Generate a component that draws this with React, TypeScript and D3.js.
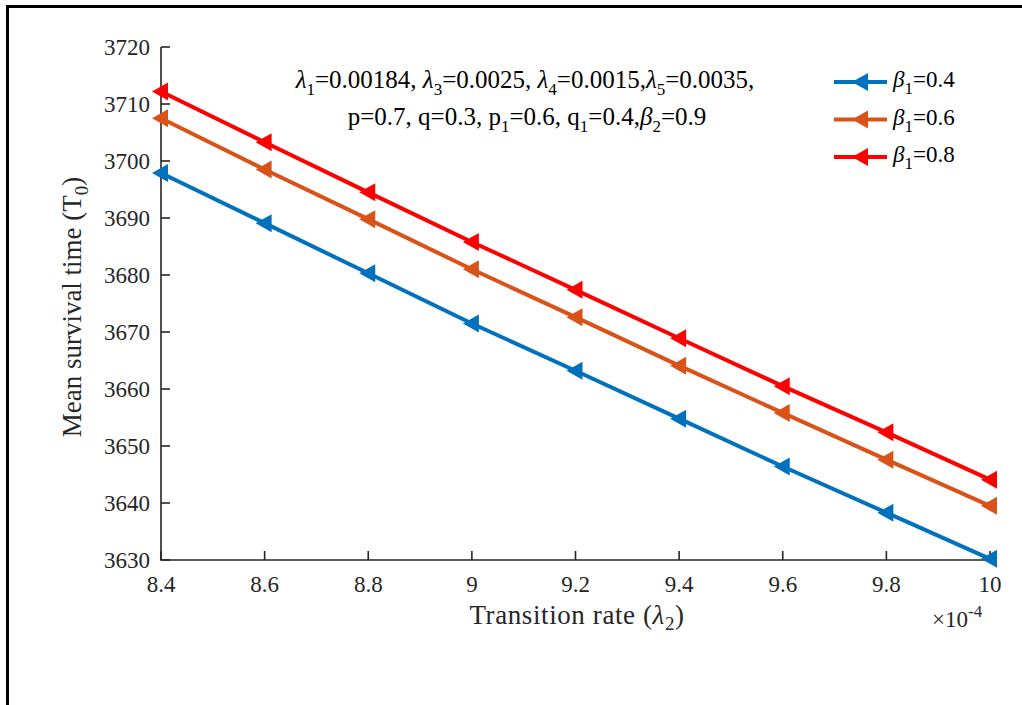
import React from 'react';
import * as d3 from 'd3';

const xValues = [8.4, 8.6, 8.8, 9.0, 9.2, 9.4, 9.6, 9.8, 10];
const beta04 = [3697.9, 3689.1, 3680.3, 3671.5, 3663.2, 3654.8, 3646.4, 3638.3, 3630.2];
const beta06 = [3707.5, 3698.5, 3689.8, 3681.0, 3672.6, 3664.1, 3655.8, 3647.6, 3639.5];
const beta08 = [3712.2, 3703.3, 3694.5, 3685.8, 3677.4, 3668.9, 3660.5, 3652.4, 3644.1];
const xTicks = [8.4, 8.6, 8.8, 9, 9.2, 9.4, 9.6, 9.8, 10];
const yTicks = [3630, 3640, 3650, 3660, 3670, 3680, 3690, 3700, 3710, 3720];

const series = [
  { label: '0.4', color: '#0072BD', values: beta04 },
  { label: '0.6', color: '#D95319', values: beta06 },
  { label: '0.8', color: '#FF0000', values: beta08 },
];

const FONT = '"Liberation Serif", "DejaVu Serif", serif';
const AXIS = '#262626';

export default function App() {
  const x = d3.scaleLinear().domain([8.4, 10]).range([161, 990]);
  const y = d3.scaleLinear().domain([3630, 3720]).range([560, 47]);
  const line = d3.line<number>().x((_, i) => x(xValues[i])).y(d => y(d));
  const tri = (cx: number, cy: number) => `M${cx - 9},${cy} L${cx + 7},${cy - 9} L${cx + 7},${cy + 9} Z`;

  return (
    <svg width={1022} height={705} style={{ position: 'absolute', left: 0, top: 0, background: '#fff' }}
      fontFamily={FONT}>
      {/* outer frame */}
      <path d="M7.5,705 L7.5,6.5 L1022,6.5" fill="none" stroke="#000" strokeWidth={3} />

      {/* axes */}
      <path d={`M${x(8.4)},${y(3720)} L${x(8.4)},${y(3630)} L${x(10)},${y(3630)}`} fill="none" stroke={AXIS} strokeWidth={1.6} />
      {yTicks.map(t => (
        <g key={t}>
          <line x1={x(8.4)} x2={x(8.4) + 9} y1={y(t)} y2={y(t)} stroke={AXIS} strokeWidth={1.6} />
          <text x={150} y={y(t)} dy="0.34em" textAnchor="end" fontSize={23} fill={AXIS}>{t}</text>
        </g>
      ))}
      {xTicks.map(t => (
        <g key={t}>
          <line x1={x(t)} x2={x(t)} y1={y(3630)} y2={y(3630) - 9} stroke={AXIS} strokeWidth={1.6} />
          <text x={x(t)} y={592} textAnchor="middle" fontSize={23} fill={AXIS}>{t}</text>
        </g>
      ))}
      <text x={932} y={627} fontSize={23} fill={AXIS}>×10<tspan dy={-10} fontSize={17}>-4</tspan></text>

      {/* axis labels */}
      <text x={577} y={624} textAnchor="middle" fontSize={27} letterSpacing={0.6} fill={AXIS}>
        Transition rate (<tspan fontStyle="italic">λ</tspan><tspan dy={6} fontSize={19}>2</tspan><tspan dy={-6}>)</tspan>
      </text>
      <text transform="translate(81,307) rotate(-90)" textAnchor="middle" fontSize={27} fill={AXIS}>
        Mean survival time (T<tspan dy={7} fontSize={19}>0</tspan><tspan dy={-7}>)</tspan>
      </text>

      {/* series */}
      {series.map(s => (
        <g key={s.label}>
          <path d={line(s.values) || ''} fill="none" stroke={s.color} strokeWidth={4} />
          {s.values.map((v, i) => (
            <path key={i} d={tri(x(xValues[i]), y(v))} fill={s.color} />
          ))}
        </g>
      ))}

      {/* annotation */}
      <text x={525} y={88} textAnchor="middle" fontSize={25} fill="#000">
        <tspan fontStyle="italic">λ</tspan><tspan dy={7} fontSize={17}>1</tspan><tspan dy={-7}>=0.00184, </tspan>
        <tspan fontStyle="italic">λ</tspan><tspan dy={7} fontSize={17}>3</tspan><tspan dy={-7}>=0.0025, </tspan>
        <tspan fontStyle="italic">λ</tspan><tspan dy={7} fontSize={17}>4</tspan><tspan dy={-7}>=0.0015,</tspan>
        <tspan fontStyle="italic">λ</tspan><tspan dy={7} fontSize={17}>5</tspan><tspan dy={-7}>=0.0035,</tspan>
      </text>
      <text x={527} y={125} textAnchor="middle" fontSize={25} fill="#000">
        p=0.7, q=0.3, p<tspan dy={7} fontSize={17}>1</tspan><tspan dy={-7}>=0.6, q</tspan>
        <tspan dy={7} fontSize={17}>1</tspan><tspan dy={-7}>=0.4,</tspan>
        <tspan fontStyle="italic">β</tspan><tspan dy={7} fontSize={17}>2</tspan><tspan dy={-7}>=0.9</tspan>
      </text>

      {/* legend */}
      {series.map((s, i) => {
        const ly = 82 + i * 37.5;
        return (
          <g key={s.label}>
            <line x1={834} x2={887} y1={ly} y2={ly} stroke={s.color} strokeWidth={4} />
            <path d={tri(861, ly)} fill={s.color} />
            <text x={893} y={ly + 5} fontSize={23} fill="#000">
              <tspan fontStyle="italic">β</tspan><tspan dy={7} fontSize={17}>1</tspan><tspan dy={-7}>={s.label}</tspan>
            </text>
          </g>
        );
      })}
    </svg>
  );
}
